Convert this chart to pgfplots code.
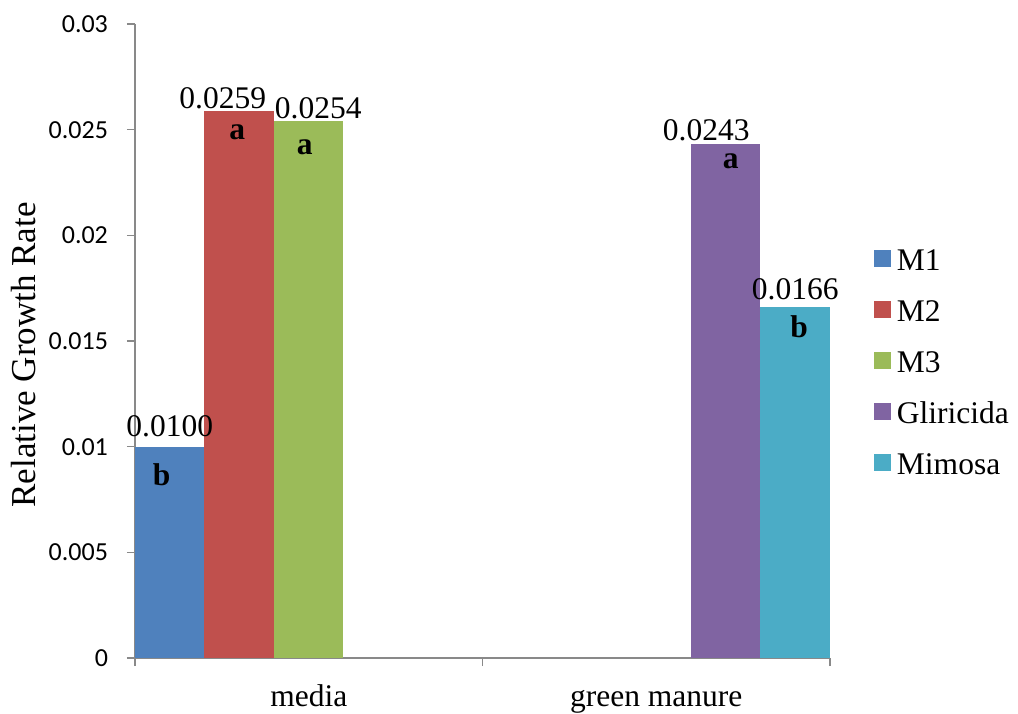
\documentclass[border=0pt]{standalone}
\usepackage{pgfplots}
\pgfplotsset{compat=1.18}
\usepackage{fontspec}
\setmainfont{Liberation Serif}
\newfontfamily\carlito{Carlito}
\definecolor{cMone}{HTML}{4F81BD}
\definecolor{cMtwo}{HTML}{C0504D}
\definecolor{cMthree}{HTML}{9BBB59}
\definecolor{cGli}{HTML}{8064A2}
\definecolor{cMim}{HTML}{4BACC6}
\definecolor{axgray}{HTML}{898989}
\newcommand{\tfont}{\fontsize{15.75}{18}\selectfont}
\tikzset{slab/.style={font=\tfont\bfseries, anchor=base, inner sep=0pt}}
\begin{document}
\begin{tikzpicture}
\useasboundingbox (-67.5pt,-27.5pt) rectangle (441.5pt,329pt);
\begin{axis}[
  at={(0pt,0pt)}, anchor=south west,
  scale only axis, width=347.5pt, height=317pt,
  xmin=0, xmax=2, ymin=0, ymax=0.03, enlargelimits=false,
  scaled y ticks=false,
  axis lines=left,
  axis line style={-, draw=axgray, line width=0.75pt},
  tick style={draw=axgray, line width=0.75pt},
  tick align=outside, major tick length=4pt,
  xtick={0,1,2}, xticklabels={},
  extra x ticks={0.5,1.5},
  extra x tick labels={media, green manure},
  extra x tick style={major tick length=0pt, xticklabel style={font=\tfont, anchor=base, yshift=-24pt}},
  ytick={0,0.005,0.01,0.015,0.02,0.025,0.03},
  yticklabels={0,0.005,0.01,0.015,0.02,0.025,0.03},
  yticklabel style={font=\carlito\fontsize{13}{15}\selectfont, xshift=-6pt},
  ylabel={Relative Growth Rate},
  ylabel style={font=\fontsize{17.5}{20}\selectfont, at={(axis description cs:-0.1597,0.478)}, anchor=center},
  nodes near coords={\pgfmathprintnumber[fixed,fixed zerofill,precision=4,assume math mode=true]{\pgfplotspointmeta}},
  every node near coord/.append style={font=\tfont, anchor=base, inner sep=0pt},
  legend style={at={(axis description cs:1.0633,0.4623)}, anchor=west, draw=none, fill=none,
    inner sep=0pt, outer sep=0pt, font=\tfont, row sep=11pt, column sep=3pt,
    nodes={inner sep=0pt, text height=11pt, text depth=3.5pt}},
  legend cell align=left,
  legend image code/.code={\path (0pt,0pt); \fill[#1] (0pt,-2.05pt) rectangle (8.5pt,6.45pt);},
]
\addplot[ybar, bar width=0.2, bar shift=0pt, fill=cMone, draw=none,
  every node near coord/.append style={xshift=0pt, yshift=5pt}] coordinates {(0.1,0.0100)};
\addlegendentry{M1}
\addplot[ybar, bar width=0.2, bar shift=0pt, fill=cMtwo, draw=none,
  every node near coord/.append style={xshift=-8.25pt, yshift=1pt}] coordinates {(0.3,0.0259)};
\addlegendentry{M2}
\addplot[ybar, bar width=0.2, bar shift=0pt, fill=cMthree, draw=none,
  every node near coord/.append style={xshift=4.75pt, yshift=1.5pt}] coordinates {(0.5,0.0254)};
\addlegendentry{M3}
\addplot[ybar, bar width=0.2, bar shift=0pt, fill=cGli, draw=none,
  every node near coord/.append style={xshift=-9.75pt, yshift=2pt}] coordinates {(1.7,0.0243)};
\addlegendentry{Gliricida}
\addplot[ybar, bar width=0.2, bar shift=0pt, fill=cMim, draw=none,
  every node near coord/.append style={xshift=0pt, yshift=4pt}] coordinates {(1.9,0.0166)};
\addlegendentry{Mimosa}
% significance letters
\node[slab, xshift=-4pt, yshift=-19.5pt] at (axis cs:0.1,0.0100) {b};
\node[slab, xshift=-1pt, yshift=-14.5pt] at (axis cs:0.3,0.0259) {a};
\node[slab, xshift=-2pt, yshift=-16.5pt] at (axis cs:0.5,0.0254) {a};
\node[slab, xshift=2.5pt, yshift=-12pt] at (axis cs:1.7,0.0243) {a};
\node[slab, xshift=2pt, yshift=-15pt] at (axis cs:1.9,0.0166) {b};
\end{axis}
\end{tikzpicture}
\end{document}
